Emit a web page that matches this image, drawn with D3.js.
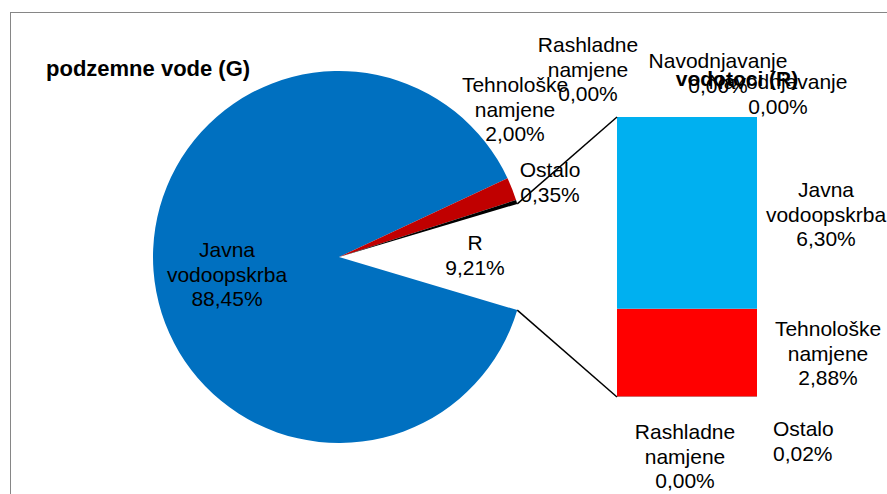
<!DOCTYPE html>
<html>
<head>
<meta charset="utf-8">
<script src="https://cdn.jsdelivr.net/npm/d3@7/dist/d3.min.js"></script>
<style>
  body { margin: 0; background: #fff; }
  text { font-family: "Liberation Sans", Arial, sans-serif; fill: #000; }
</style>
</head>
<body>
<svg width="887" height="494"></svg>
<script>
// data
var pieNames = ['Javna vodoopskrba', 'Tehnološke namjene', 'Rashladne namjene', 'Navodnjavanje', 'Ostalo', 'R'];
var pieValues = [88.45, 2.00, 0.00, 0.00, 0.35, 9.21];
var pieColors = ['#0070C0', '#C00000', '#7F7F7F', '#A5A5A5', '#000000', 'none'];

var barNames = ['Ostalo', 'Rashladne namjene', 'Tehnološke namjene', 'Navodnjavanje', 'Javna vodoopskrba'];
var barValues = [0.02, 0.00, 2.88, 0.00, 6.30];
var barColors = ['#7F7F7F', '#A5A5A5', '#FF0000', '#FFC000', '#00B0F0'];

var pieTitle = 'podzemne vode (G)';
var barTitle = 'vodotoci (R)';

var svg = d3.select('svg');

// chart frame (runs off the right and bottom edge)
svg.append('rect')
    .attr('x', 10.5).attr('y', 12.5)
    .attr('width', 1000).attr('height', 1000)
    .attr('fill', 'none')
    .attr('stroke', '#868686');

var cx = 339, cy = 257, radius = 186;
var lineH = 24.5;
var fontSize = 21;

function fmt(v) {
    return v.toFixed(2).replace('.', ',') + '%';
}

function labelLines(name, v) {
    return name.split(' ').concat([fmt(v)]);
}

// pie: the "R" slice is centred on 3 o'clock
var total = d3.sum(pieValues);
var fR = pieValues[pieValues.length - 1] / total;
var a0 = Math.PI / 2 + Math.PI * fR;

var pie = d3.pie()
    .sort(null)
    .startAngle(a0)
    .endAngle(a0 + 2 * Math.PI);

var arcs = pie(pieValues);
var arc = d3.arc().innerRadius(0).outerRadius(radius);

var pieG = svg.append('g')
    .attr('transform', 'translate(' + cx + ',' + cy + ')');

pieG.selectAll('path')
    .data(arcs)
    .enter()
    .append('path')
    .attr('d', arc)
    .attr('fill', function(d, i) { return pieColors[i]; });

// bar of the R slice
var barX = 617, barW = 140;
var y = d3.scaleLinear()
    .domain([0, d3.sum(barValues)])
    .range([397, 117]);

var stacked = [];
var acc = 0;
barValues.forEach(function(v, i) {
    stacked.push({name: barNames[i], v: v, y0: acc, y1: acc + v, color: barColors[i]});
    acc += v;
});

svg.append('g').selectAll('rect')
    .data(stacked)
    .enter()
    .append('rect')
    .attr('x', barX)
    .attr('width', barW)
    .attr('y', function(d) { return y(d.y1); })
    .attr('height', function(d) { return y(d.y0) - y(d.y1); })
    .attr('fill', function(d) { return d.color; });

// connector lines
var rArc = arcs[arcs.length - 1];
function edge(a) {
    return [cx + radius * Math.sin(a), cy - radius * Math.cos(a)];
}
var pTop = edge(rArc.startAngle);
var pBot = edge(rArc.endAngle);

svg.append('line')
    .attr('x1', pTop[0]).attr('y1', pTop[1])
    .attr('x2', barX).attr('y2', y(d3.sum(barValues)))
    .attr('stroke', '#000').attr('stroke-width', 1.5);
svg.append('line')
    .attr('x1', pBot[0]).attr('y1', pBot[1])
    .attr('x2', barX).attr('y2', y(0))
    .attr('stroke', '#000').attr('stroke-width', 1.5);

// label placement (centre x, first line centre y)
var piePos = {
    'Javna vodoopskrba': [227, 250],
    'Tehnološke namjene': [515, 85],
    'Rashladne namjene': [588, 45],
    'Navodnjavanje': [718, 61],
    'Ostalo': [550, 170],
    'R': [475, 243]
};
var barPos = {
    'Javna vodoopskrba': [826, 190],
    'Tehnološke namjene': [828, 329],
    'Rashladne namjene': [685, 432],
    'Navodnjavanje': [778, 82],
    'Ostalo': [773, 429]
};

function drawLabel(pos, lines, anchor) {
    var t = svg.append('text')
        .attr('text-anchor', anchor || 'middle')
        .attr('font-size', fontSize);
    lines.forEach(function(l, i) {
        t.append('tspan')
            .attr('x', pos[0])
            .attr('y', pos[1] + i * lineH)
            .attr('dy', '0.35em')
            .text(l);
    });
}

pieNames.forEach(function(n, i) {
    drawLabel(piePos[n], labelLines(n, pieValues[i]));
});

// bar title sits under the overlapping labels
svg.append('text')
    .attr('x', 737).attr('y', 79).attr('dy', '0.35em')
    .attr('text-anchor', 'middle')
    .attr('font-size', fontSize)
    .attr('font-weight', 'bold')
    .text(barTitle);

stacked.forEach(function(d) {
    var anchor = d.name === 'Ostalo' ? 'start' : 'middle';
    drawLabel(barPos[d.name], labelLines(d.name, d.v), anchor);
});

svg.append('text')
    .attr('x', 46).attr('y', 68).attr('dy', '0.35em')
    .attr('font-size', 22)
    .attr('font-weight', 'bold')
    .text(pieTitle);
</script>
</body>
</html>
